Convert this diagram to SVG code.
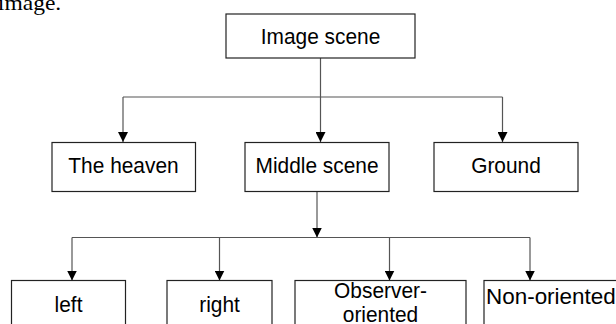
<svg xmlns="http://www.w3.org/2000/svg" width="616" height="324" viewBox="0 0 616 324">
<defs>
<style>
.box{fill:#fff;stroke:#222;stroke-width:1.2}
.lbl{font-family:"Liberation Sans",Arial,sans-serif;font-size:22px;fill:#000;text-anchor:middle}
.conn{fill:none;stroke:#555;stroke-width:1.2}
</style>
<marker id="ah" markerUnits="userSpaceOnUse" markerWidth="10" markerHeight="10" refX="10" refY="5" orient="auto">
<path d="M0,0 L10,5 L0,10 z" fill="#000"/>
</marker>
</defs>
<rect width="616" height="324" fill="#fff"/>
<text x="-2" y="10" transform="scale(1.07,1)" style="font-family:'Liberation Serif','Times New Roman',serif;font-size:22px">image.</text>
<g id="connectors">
<path class="conn" d="M320.5,58 V97 M123,97 H502.5"/>
<path class="conn" marker-end="url(#ah)" d="M123,97 V142"/>
<path class="conn" marker-end="url(#ah)" d="M320.5,97 V142"/>
<path class="conn" marker-end="url(#ah)" d="M502.5,97 V142"/>
<path class="conn" marker-end="url(#ah)" d="M317,191.5 V237.5"/>
<path class="conn" d="M72,237.5 H530"/>
<path class="conn" marker-end="url(#ah)" d="M72,237.5 V280.5"/>
<path class="conn" marker-end="url(#ah)" d="M219.5,237.5 V280.5"/>
<path class="conn" marker-end="url(#ah)" d="M389.5,237.5 V280.5"/>
<path class="conn" marker-end="url(#ah)" d="M530,237.5 V280.5"/>
</g>
<g id="image-scene">
<rect class="box" x="226" y="14" width="189" height="44"/>
<text class="lbl" transform="translate(320.5,44) scale(0.95,1)">Image scene</text>
</g>
<g id="the-heaven">
<rect class="box" x="52" y="142.5" width="143.5" height="49"/>
<text class="lbl" transform="translate(123.5,172.5) scale(0.95,1)">The heaven</text>
</g>
<g id="middle-scene">
<rect class="box" x="245" y="142.5" width="144" height="49"/>
<text class="lbl" transform="translate(317,172.5) scale(0.95,1)">Middle scene</text>
</g>
<g id="ground">
<rect class="box" x="434" y="142.5" width="144" height="49"/>
<text class="lbl" transform="translate(506,172.5) scale(0.95,1)">Ground</text>
</g>
<g id="left">
<rect class="box" x="11.5" y="280.5" width="114" height="60"/>
<text class="lbl" transform="translate(68.5,312) scale(0.95,1)">left</text>
</g>
<g id="right">
<rect class="box" x="167" y="280.5" width="105" height="60"/>
<text class="lbl" transform="translate(219.5,312) scale(0.95,1)">right</text>
</g>
<g id="observer-oriented">
<rect class="box" x="295" y="280.5" width="171" height="60"/>
<text class="lbl" transform="translate(380.5,298) scale(0.95,1)">Observer-</text>
<text class="lbl" transform="translate(380.5,322) scale(0.95,1)">oriented</text>
</g>
<g id="non-oriented">
<rect class="box" x="484" y="280.5" width="150" height="60"/>
<text class="lbl" style="text-anchor:start" transform="translate(486,304) scale(1.02,1)">Non-oriented</text>
</g>
</svg>
